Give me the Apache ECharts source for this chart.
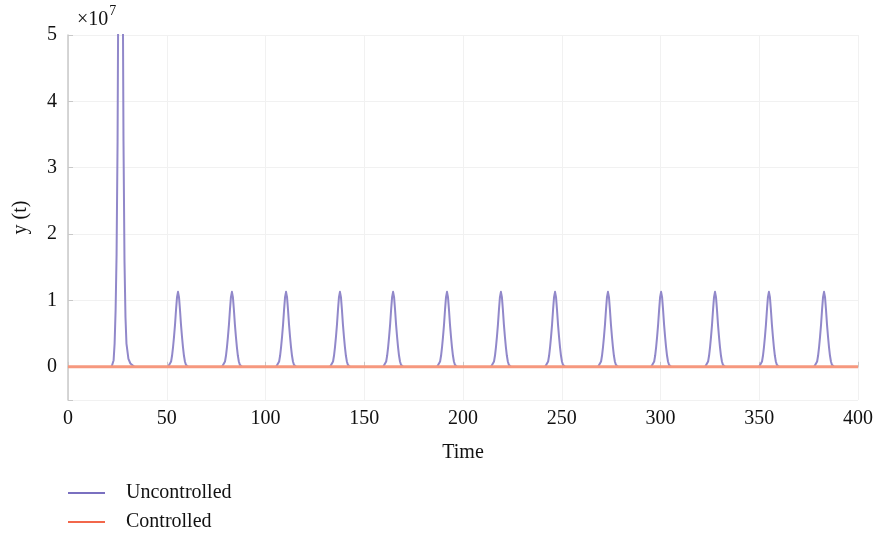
<!DOCTYPE html>
<html>
<head>
<meta charset="utf-8">
<script src="https://cdn.jsdelivr.net/npm/echarts@6/dist/echarts.min.js"></script>
<style>
  html, body { margin: 0; padding: 0; background: #fff; }
  #chart { width: 877px; height: 536px; }
</style>
</head>
<body>
<div id="chart"></div>
<script>
// y values in units of 1e7
var xTicks = [0, 50, 100, 150, 200, 250, 300, 350, 400];
var yTicks = [0, 1, 2, 3, 4, 5];

// first (large) outbreak: time offsets from its centre and heights
var firstPeakTime = 26.6;
var firstOffsets = [-4.5, -4, -3.5, -3, -2.5, -2, -1.5, -1.25, -1, -0.5, 0, 0.5, 1, 1.25, 1.5, 2, 2.5, 3, 4, 5, 6, 7];
var firstValues  = [0, 0.02, 0.1, 0.35, 0.85, 1.7, 3.4, 5, 7, 12, 15, 12, 7, 5, 3.4, 1.6, 0.75, 0.35, 0.12, 0.05, 0.02, 0];

// later outbreaks, all the same shape
var peakTimes = [55.7, 83.0, 110.4, 137.7, 164.6, 191.9, 219.2, 246.6, 273.4, 300.3, 327.6, 354.9, 382.8];
var pulseOffsets = [-5, -4.5, -4, -3.5, -3, -2.5, -2, -1.5, -1, -0.5, 0, 0.5, 1, 1.5, 2, 2.5, 3, 3.5, 4, 4.5, 5];
var pulseValues  = [0, 0.01, 0.03, 0.08, 0.17, 0.30, 0.46, 0.64, 0.86, 1.05, 1.13, 1.05, 0.86, 0.64, 0.46, 0.30, 0.17, 0.08, 0.03, 0.01, 0];

var controlledTimes = [0, 400];
var controlledValues = [0, 0];

// build point lists (between outbreaks uncontrolled sits on 0, under the controlled line)
var uncontrolled = [];
firstOffsets.forEach(function (d, i) {
    uncontrolled.push([firstPeakTime + d, firstValues[i]]);
});
uncontrolled.push([firstPeakTime + 7.5, null]);
peakTimes.forEach(function (t) {
    pulseOffsets.forEach(function (d, i) {
        uncontrolled.push([t + d, pulseValues[i]]);
    });
    uncontrolled.push([t + 5.5, null]);
});

var controlled = controlledTimes.map(function (t, i) { return [t, controlledValues[i]]; });

var font = 'Liberation Serif';
var myChart = echarts.init(document.getElementById('chart'));

myChart.setOption({
    animation: false,
    grid: { left: 68, right: 19, top: 35, bottom: 136 },
    textStyle: { fontFamily: font },
    legend: {
        orient: 'vertical',
        left: 68,
        top: 483,
        padding: 0,
        itemGap: 9,
        icon: 'rect',
        itemWidth: 37,
        itemHeight: 2,
        textStyle: { fontFamily: font, fontSize: 20, color: '#111', padding: [0, 0, 0, 16] },
        data: [
            { name: 'Uncontrolled', itemStyle: { color: '#7a70c0' } },
            { name: 'Controlled', itemStyle: { color: '#f2674b' } }
        ]
    },
    graphic: [{
        type: 'text',
        left: 77,
        top: 4,
        style: {
            text: '{a|×10}{b|7}',
            rich: {
                a: { fontFamily: font, fontSize: 20, fill: '#111', verticalAlign: 'bottom' },
                b: { fontFamily: font, fontSize: 14, fill: '#111', verticalAlign: 'top', padding: [0, 0, 12, 1] }
            }
        }
    }],
    xAxis: {
        type: 'value',
        min: xTicks[0],
        max: xTicks[xTicks.length - 1],
        interval: 50,
        name: 'Time',
        nameLocation: 'middle',
        nameGap: 43,
        nameTextStyle: { fontFamily: font, fontSize: 20, color: '#111' },
        axisLine: { show: true, lineStyle: { color: '#c8c8c8', width: 1.5 } },
        axisTick: { show: true, inside: true, length: 5, lineStyle: { color: '#c8c8c8' } },
        axisLabel: { fontFamily: font, fontSize: 20, color: '#111', margin: 9 },
        splitLine: { show: true, lineStyle: { color: '#f1f1f1', width: 1 } }
    },
    yAxis: {
        type: 'value',
        min: -0.5,
        max: yTicks[yTicks.length - 1],
        splitNumber: 5,
        name: 'y (t)',
        nameLocation: 'middle',
        nameGap: 37,
        nameTextStyle: { fontFamily: font, fontSize: 20, color: '#111' },
        axisLine: { show: true, lineStyle: { color: '#c8c8c8', width: 1.5 } },
        axisTick: { show: true, inside: true, length: 5, lineStyle: { color: '#c8c8c8' } },
        axisLabel: {
            fontFamily: font, fontSize: 20, color: '#111', margin: 11,
            formatter: function (v) { return yTicks.indexOf(v) >= 0 ? String(v) : ''; }
        },
        splitLine: { show: true, lineStyle: { color: '#f1f1f1', width: 1 } }
    },
    series: [
        {
            name: 'Uncontrolled',
            type: 'line',
            data: uncontrolled,
            showSymbol: false,
            connectNulls: false,
            smooth: false,
            clip: true,
            lineStyle: { color: '#9188ca', width: 2, join: 'round' },
            itemStyle: { color: '#7a70c0' },
            z: 3
        },
        {
            name: 'Controlled',
            type: 'line',
            data: controlled,
            showSymbol: false,
            lineStyle: { color: '#f6987e', width: 3 },
            itemStyle: { color: '#f2674b' },
            z: 4
        }
    ]
});
</script>
</body>
</html>
